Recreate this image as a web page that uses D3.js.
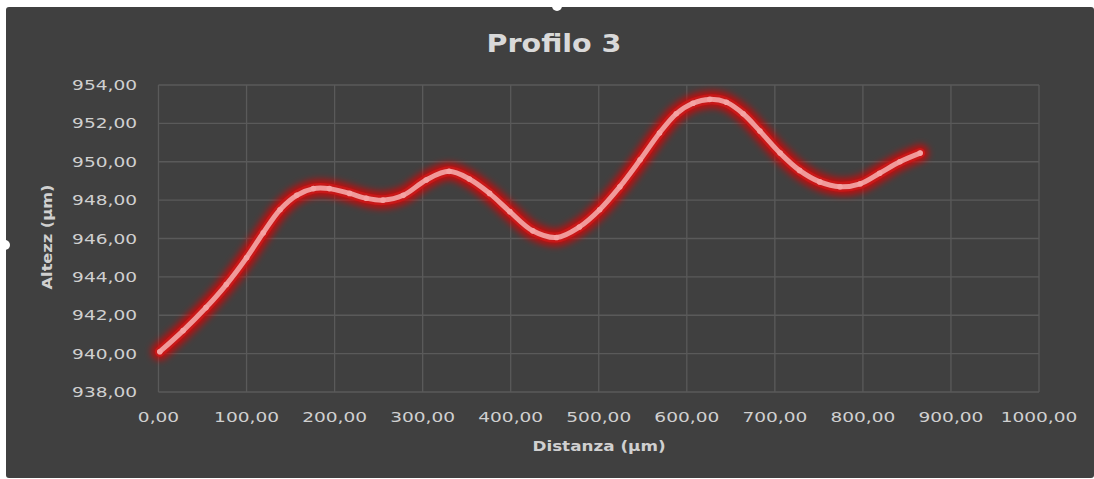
<!DOCTYPE html>
<html>
<head>
<meta charset="utf-8">
<script src="https://cdn.jsdelivr.net/npm/d3@7"></script>
<style>
  body { margin: 0; background: #ffffff; }
  svg { display: block; }
</style>
</head>
<body>
<div id="chart"></div>
<script>
// distanza (µm) e altezza (µm)
const distanza = [1.5, 28, 54, 77, 100, 119, 138, 157, 176, 194, 217, 236, 255, 278, 304, 330, 353, 376, 399, 425,
                  452, 478, 501, 524, 547, 569, 588, 607, 626, 645, 664, 683, 706, 728, 751, 774, 797, 819, 842, 865];
const altezza = [940.1, 941.2, 942.4, 943.6, 945.0, 946.3, 947.5, 948.25, 948.6, 948.6, 948.35, 948.1, 948.0, 948.25, 949.05, 949.5, 949.1, 948.35, 947.4, 946.4,
                 946.05, 946.6, 947.5, 948.7, 950.1, 951.5, 952.5, 953.05, 953.25, 953.1, 952.5, 951.6, 950.45, 949.55, 948.95, 948.7, 948.85, 949.4, 950.0, 950.45];
const xTicks = [0, 100, 200, 300, 400, 500, 600, 700, 800, 900, 1000];
const yTicks = [938, 940, 942, 944, 946, 948, 950, 952, 954];

const W = 1094, H = 479;
const fmt = v => d3.format(".2f")(v).replace(".", ",");
const sx = 1.28; // testo piu' largo come nello screenshot

const svg = d3.select("#chart").append("svg")
    .attr("width", W).attr("height", H);

const defs = svg.append("defs");
const glow = defs.append("filter").attr("id", "glow")
    .attr("x", "-10%").attr("y", "-10%").attr("width", "120%").attr("height", "120%");
glow.append("feGaussianBlur").attr("stdDeviation", 3.5);

svg.append("rect")
   .attr("x", 6).attr("y", 7).attr("width", W - 6).attr("height", H - 8)
   .attr("rx", 3)
   .attr("fill", "#404040");

const x = d3.scaleLinear().domain([0, 1000]).range([158.5, 1039]);
const y = d3.scaleLinear().domain([938, 954]).range([392, 85]);

// griglia
svg.append("g").selectAll("line")
   .data(yTicks).enter().append("line")
   .attr("x1", x(0)).attr("x2", x(1000))
   .attr("y1", d => y(d)).attr("y2", d => y(d))
   .attr("stroke", "#5a5a5a").attr("stroke-width", 1.3);

svg.append("g").selectAll("line")
   .data(xTicks).enter().append("line")
   .attr("x1", d => x(d)).attr("x2", d => x(d))
   .attr("y1", y(954)).attr("y2", y(938))
   .attr("stroke", "#5a5a5a").attr("stroke-width", 1.3);

// etichette assi
svg.append("g").selectAll("text")
   .data(yTicks).enter().append("text")
   .attr("transform", d => `translate(137,${y(d) + 5}) scale(${sx},1)`)
   .attr("text-anchor", "end")
   .attr("font-family", "DejaVu Sans, sans-serif")
   .attr("font-size", 14.5)
   .attr("fill", "#d0d0d0")
   .text(fmt);

svg.append("g").selectAll("text")
   .data(xTicks).enter().append("text")
   .attr("transform", d => `translate(${x(d)},${422}) scale(${sx},1)`)
   .attr("text-anchor", "middle")
   .attr("font-family", "DejaVu Sans, sans-serif")
   .attr("font-size", 14.5)
   .attr("fill", "#d0d0d0")
   .text(fmt);

svg.append("text")
   .attr("transform", `translate(554,52) scale(1.19,1)`)
   .attr("text-anchor", "middle")
   .attr("font-family", "DejaVu Sans, sans-serif")
   .attr("font-weight", "bold")
   .attr("font-size", 24)
   .attr("fill", "#d9d9d9")
   .text("Profilo 3");

svg.append("text")
   .attr("transform", `translate(599,451) scale(1.2,1)`)
   .attr("text-anchor", "middle")
   .attr("font-family", "DejaVu Sans, sans-serif")
   .attr("font-weight", "bold")
   .attr("font-size", 14)
   .attr("fill", "#d0d0d0")
   .text("Distanza (µm)");

svg.append("text")
   .attr("transform", `translate(52,237) rotate(-90) scale(1.2,1)`)
   .attr("text-anchor", "middle")
   .attr("font-family", "DejaVu Sans, sans-serif")
   .attr("font-weight", "bold")
   .attr("font-size", 13.5)
   .attr("fill", "#d0d0d0")
   .text("Altezz (µm)");

// serie
const data = distanza.map((d, i) => ({ x: d, y: altezza[i] }));
const line = d3.line()
    .x(d => x(d.x)).y(d => y(d.y))
    .curve(d3.curveCatmullRom.alpha(0.5));

const serie = svg.append("g").attr("stroke-linecap", "round").attr("stroke-linejoin", "round").attr("fill", "none");
serie.append("path").datum(data).attr("d", line)
     .attr("stroke", "#e00000").attr("stroke-width", 17).attr("stroke-opacity", 0.8)
     .attr("filter", "url(#glow)");
serie.append("path").datum(data).attr("d", line)
     .attr("stroke", "#c81818").attr("stroke-width", 10);
serie.append("path").datum(data).attr("d", line)
     .attr("stroke", "#f09a9a").attr("stroke-width", 5);

svg.append("g").selectAll("circle")
   .data(data).enter().append("circle")
   .attr("cx", d => x(d.x)).attr("cy", d => y(d.y))
   .attr("r", 2.8)
   .attr("fill", "#f4a4a4");

// maniglie di selezione
svg.append("circle").attr("cx", 557).attr("cy", 6).attr("r", 5).attr("fill", "#ffffff");
svg.append("circle").attr("cx", 5).attr("cy", 245).attr("r", 5).attr("fill", "#ffffff");
</script>
</body>
</html>
